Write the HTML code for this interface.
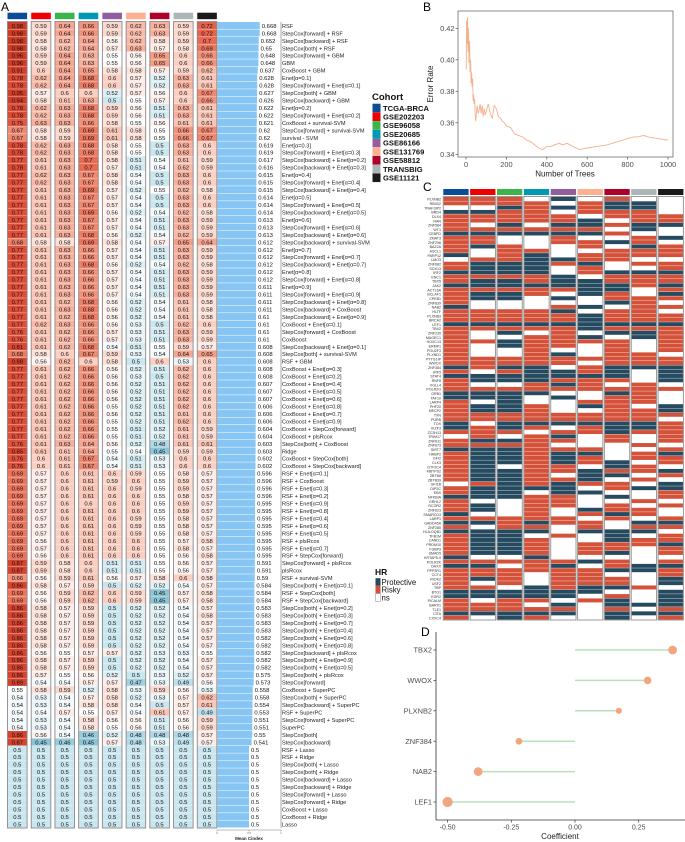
<!DOCTYPE html>
<html><head><meta charset="utf-8"><style>
html,body{margin:0;padding:0;background:#fff;}
svg{display:block;font-family:"Liberation Sans",sans-serif;}
</style></head><body>
<svg id="fig" width="685" height="842" viewBox="0 0 685 842" xmlns="http://www.w3.org/2000/svg">
<text x="1" y="11" font-size="12">A</text>
<text x="423" y="11" font-size="12">B</text>
<text x="423" y="191" font-size="12">C</text>
<text x="421" y="636" font-size="12">D</text>
</svg>
<script>
const NS="http://www.w3.org/2000/svg";
const svg=document.getElementById('fig');
function mk(tag,attrs,parent){const e=document.createElementNS(NS,tag);for(const k in attrs)e.setAttribute(k,attrs[k]);(parent||svg).appendChild(e);return e;}

// ===== Panel A data =====
const cohorts=["TCGA-BRCA","GSE202203","GSE96058","GSE20685","GSE86166","GSE131769","GSE58812","TRANSBIG","GSE11121"];
const cohortColors=["#0b4c96","#ee0000","#3cb44b","#0099b4","#925e9f","#fdaf91","#ad002a","#adb6b6","#1b1919"];
const modelLabels=["RSF","StepCox[forward] + RSF","StepCox[backward] + RSF","StepCox[both] + RSF","StepCox[forward] + GBM","GBM","CoxBoost + GBM","Enet[α=0.1]","StepCox[forward] + Enet[α=0.1]","StepCox[both] + GBM","StepCox[backward] + GBM","Enet[α=0.2]","StepCox[forward] + Enet[α=0.2]","CoxBoost + survival-SVM","StepCox[forward] + survival-SVM","survival - SVM","Enet[α=0.3]","StepCox[forward] + Enet[α=0.3]","StepCox[backward] + Enet[α=0.2]","StepCox[backward] + Enet[α=0.3]","Enet[α=0.4]","StepCox[forward] + Enet[α=0.4]","StepCox[backward] + Enet[α=0.4]","Enet[α=0.5]","StepCox[forward] + Enet[α=0.5]","StepCox[backward] + Enet[α=0.5]","Enet[α=0.6]","StepCox[forward] + Enet[α=0.6]","StepCox[backward] + Enet[α=0.6]","StepCox[backward] + survival-SVM","Enet[α=0.7]","StepCox[forward] + Enet[α=0.7]","StepCox[backward] + Enet[α=0.7]","Enet[α=0.8]","StepCox[forward] + Enet[α=0.8]","Enet[α=0.9]","StepCox[forward] + Enet[α=0.9]","StepCox[backward] + Enet[α=0.8]","StepCox[backward] + CoxBoost","StepCox[backward] + Enet[α=0.9]","CoxBoost + Enet[α=0.1]","StepCox[forward] + CoxBoost","CoxBoost","StepCox[backward] + Enet[α=0.1]","StepCox[both] + survival-SVM","RSF + GBM","CoxBoost + Enet[α=0.3]","CoxBoost + Enet[α=0.2]","CoxBoost + Enet[α=0.4]","CoxBoost + Enet[α=0.5]","CoxBoost + Enet[α=0.6]","CoxBoost + Enet[α=0.8]","CoxBoost + Enet[α=0.7]","CoxBoost + Enet[α=0.9]","CoxBoost + StepCox[forward]","CoxBoost + plsRcox","StepCox[both] + CoxBoost","Ridge","CoxBoost + StepCox[both]","CoxBoost + StepCox[backward]","RSF + Enet[α=0.1]","RSF + CoxBoost","RSF + Enet[α=0.3]","RSF + Enet[α=0.2]","RSF + Enet[α=0.9]","RSF + Enet[α=0.8]","RSF + Enet[α=0.4]","RSF + Enet[α=0.6]","RSF + Enet[α=0.5]","RSF + plsRcox","RSF + Enet[α=0.7]","RSF + StepCox[forward]","StepCox[forward] + plsRcox","plsRcox","RSF + survival-SVM","StepCox[both] + Enet[α=0.1]","RSF + StepCox[both]","RSF + StepCox[backward]","StepCox[both] + Enet[α=0.2]","StepCox[both] + Enet[α=0.3]","StepCox[both] + Enet[α=0.7]","StepCox[both] + Enet[α=0.4]","StepCox[both] + Enet[α=0.6]","StepCox[both] + Enet[α=0.8]","StepCox[backward] + plsRcox","StepCox[both] + Enet[α=0.9]","StepCox[both] + Enet[α=0.5]","StepCox[both] + plsRcox","StepCox[forward]","CoxBoost + SuperPC","StepCox[both] + SuperPC","StepCox[backward] + SuperPC","RSF + SuperPC","StepCox[forward] + SuperPC","SuperPC","StepCox[both]","StepCox[backward]","RSF + Lasso","RSF + Ridge","StepCox[both] + Lasso","StepCox[both] + Ridge","StepCox[backward] + Lasso","StepCox[backward] + Ridge","StepCox[forward] + Lasso","StepCox[forward] + Ridge","CoxBoost + Lasso","CoxBoost + Ridge","Lasso"];
const meanCindex=[0.668,0.668,0.652,0.65,0.648,0.648,0.637,0.628,0.628,0.627,0.626,0.622,0.622,0.621,0.62,0.62,0.619,0.619,0.617,0.616,0.615,0.615,0.615,0.614,0.614,0.614,0.613,0.613,0.613,0.612,0.612,0.612,0.612,0.612,0.612,0.611,0.611,0.611,0.611,0.61,0.61,0.61,0.61,0.608,0.608,0.608,0.608,0.608,0.607,0.607,0.607,0.606,0.606,0.606,0.604,0.604,0.603,0.603,0.602,0.602,0.596,0.596,0.596,0.596,0.595,0.595,0.595,0.595,0.595,0.595,0.595,0.595,0.591,0.591,0.59,0.584,0.584,0.584,0.583,0.583,0.583,0.583,0.582,0.582,0.582,0.582,0.582,0.575,0.573,0.558,0.558,0.554,0.553,0.551,0.551,0.55,0.541,0.5,0.5,0.5,0.5,0.5,0.5,0.5,0.5,0.5,0.5,0.5];
const E7=[0.77,0.61,0.63,0.66,0.57,0.54,0.51,0.63,0.59], SB=[0.86,0.58,0.57,0.59,0.5,0.52,0.52,0.54,0.57], CB=[0.77,0.61,0.62,0.66,0.56,0.52,0.51,0.62,0.6], RE=[0.69,0.57,0.6,0.61,0.6,0.59,0.55,0.58,0.57], H5=[0.5,0.5,0.5,0.5,0.5,0.5,0.5,0.5,0.5];
const cohortValues=[
[0.98,0.59,0.64,0.66,0.59,0.62,0.63,0.59,0.72],[0.98,0.59,0.64,0.66,0.59,0.62,0.63,0.59,0.72],[0.98,0.58,0.62,0.64,0.56,0.62,0.58,0.59,0.7],[0.98,0.58,0.62,0.64,0.57,0.63,0.57,0.58,0.69],
[0.96,0.59,0.64,0.63,0.55,0.56,0.65,0.6,0.66],[0.96,0.59,0.64,0.63,0.55,0.56,0.65,0.6,0.66],[0.91,0.6,0.64,0.65,0.58,0.58,0.57,0.59,0.62],[0.78,0.62,0.64,0.68,0.6,0.57,0.52,0.63,0.61],
[0.78,0.62,0.64,0.68,0.6,0.57,0.52,0.63,0.61],[0.95,0.57,0.6,0.6,0.52,0.57,0.56,0.6,0.67],[0.94,0.58,0.61,0.63,0.5,0.55,0.57,0.6,0.66],[0.78,0.62,0.63,0.68,0.59,0.56,0.51,0.63,0.61],
[0.78,0.62,0.63,0.68,0.59,0.56,0.51,0.63,0.61],[0.75,0.63,0.63,0.66,0.58,0.55,0.56,0.61,0.61],[0.67,0.58,0.59,0.69,0.61,0.58,0.55,0.66,0.67],[0.67,0.58,0.59,0.69,0.61,0.58,0.55,0.66,0.67],
[0.78,0.62,0.63,0.68,0.58,0.55,0.5,0.63,0.6],[0.78,0.62,0.63,0.68,0.58,0.55,0.5,0.63,0.6],[0.77,0.61,0.63,0.7,0.58,0.51,0.54,0.61,0.59],[0.78,0.61,0.63,0.7,0.57,0.51,0.54,0.62,0.59],
[0.77,0.62,0.63,0.67,0.58,0.54,0.5,0.63,0.6],[0.77,0.62,0.63,0.67,0.58,0.54,0.5,0.63,0.6],[0.77,0.61,0.63,0.69,0.57,0.52,0.55,0.62,0.58],[0.77,0.61,0.63,0.67,0.57,0.54,0.5,0.63,0.6],
[0.77,0.61,0.63,0.67,0.57,0.54,0.5,0.63,0.6],[0.77,0.61,0.63,0.69,0.56,0.52,0.54,0.62,0.58],[0.77,0.61,0.63,0.67,0.57,0.54,0.51,0.63,0.59],[0.77,0.61,0.63,0.67,0.57,0.54,0.51,0.63,0.59],
[0.77,0.61,0.63,0.68,0.56,0.52,0.54,0.62,0.59],[0.68,0.58,0.58,0.69,0.58,0.54,0.57,0.65,0.64],E7,E7,
[0.77,0.61,0.63,0.68,0.56,0.52,0.54,0.62,0.58],E7,E7,E7,E7,[0.77,0.61,0.62,0.68,0.56,0.52,0.54,0.61,0.58],
[0.77,0.61,0.63,0.68,0.56,0.52,0.54,0.61,0.58],[0.77,0.61,0.62,0.68,0.56,0.52,0.54,0.61,0.58],[0.77,0.62,0.63,0.66,0.56,0.53,0.5,0.62,0.6],[0.76,0.61,0.62,0.66,0.57,0.53,0.51,0.63,0.59],
[0.76,0.61,0.62,0.66,0.57,0.53,0.51,0.63,0.59],[0.81,0.61,0.62,0.68,0.54,0.51,0.55,0.59,0.57],[0.68,0.58,0.6,0.67,0.59,0.53,0.54,0.64,0.65],[0.88,0.56,0.62,0.6,0.58,0.5,0.6,0.53,0.6],
CB,[0.77,0.61,0.62,0.66,0.56,0.53,0.5,0.62,0.6],CB,CB,
CB,[0.77,0.61,0.62,0.66,0.55,0.52,0.51,0.62,0.6],[0.77,0.61,0.62,0.66,0.56,0.52,0.51,0.61,0.6],[0.77,0.61,0.62,0.66,0.55,0.52,0.51,0.62,0.6],
[0.77,0.61,0.62,0.66,0.55,0.51,0.52,0.61,0.59],[0.77,0.61,0.62,0.66,0.55,0.51,0.52,0.61,0.59],[0.76,0.61,0.63,0.64,0.56,0.52,0.48,0.61,0.61],[0.85,0.61,0.61,0.64,0.55,0.54,0.45,0.59,0.59],
[0.76,0.6,0.61,0.67,0.54,0.51,0.53,0.6,0.6],[0.76,0.6,0.61,0.67,0.54,0.51,0.53,0.6,0.6],RE,[0.69,0.57,0.6,0.61,0.59,0.6,0.55,0.59,0.57],
[0.69,0.57,0.6,0.61,0.6,0.59,0.55,0.59,0.57],[0.69,0.57,0.6,0.61,0.6,0.6,0.55,0.58,0.57],[0.69,0.57,0.6,0.6,0.6,0.6,0.55,0.59,0.57],[0.69,0.57,0.6,0.61,0.6,0.6,0.55,0.59,0.57],
RE,RE,RE,[0.69,0.56,0.6,0.61,0.6,0.6,0.55,0.57,0.58],
[0.69,0.57,0.6,0.61,0.6,0.6,0.55,0.58,0.57],[0.69,0.56,0.6,0.61,0.6,0.6,0.55,0.56,0.58],[0.87,0.59,0.58,0.6,0.51,0.51,0.55,0.56,0.57],[0.87,0.59,0.58,0.6,0.51,0.51,0.55,0.56,0.57],
[0.66,0.56,0.59,0.61,0.56,0.57,0.58,0.6,0.58],SB,[0.69,0.56,0.59,0.62,0.6,0.59,0.45,0.57,0.58],[0.69,0.56,0.59,0.62,0.6,0.59,0.45,0.57,0.58],
SB,[0.86,0.58,0.57,0.59,0.5,0.52,0.52,0.54,0.58],SB,SB,SB,SB,
[0.86,0.56,0.55,0.57,0.57,0.52,0.53,0.53,0.55],SB,SB,[0.86,0.57,0.55,0.56,0.52,0.5,0.53,0.52,0.57],
[0.89,0.54,0.54,0.57,0.57,0.47,0.53,0.49,0.56],[0.55,0.58,0.59,0.52,0.58,0.53,0.59,0.56,0.53],[0.54,0.53,0.54,0.57,0.58,0.52,0.53,0.57,0.62],[0.54,0.53,0.54,0.58,0.58,0.54,0.5,0.57,0.61],
[0.54,0.54,0.57,0.55,0.57,0.54,0.61,0.57,0.49],[0.54,0.53,0.54,0.58,0.56,0.56,0.51,0.56,0.59],[0.54,0.53,0.54,0.58,0.55,0.56,0.51,0.56,0.59],[0.86,0.56,0.54,0.46,0.52,0.48,0.48,0.48,0.57],
[0.87,0.45,0.46,0.45,0.57,0.48,0.53,0.49,0.57],H5,H5,H5,H5,H5,H5,H5,H5,H5,H5,H5];

// ===== Panel B data =====
const treeCounts=[1,3,5,8,10,12,15,18,20,23,25,28,30,33,35,38,40,43,45,48,50,55,60,65,70,75,80,85,90,95,100,110,120,130,140,150,160,170,180,190,200,220,240,260,280,300,320,340,360,380,400,420,440,460,480,500,530,560,600,650,700,750,800,830,850,880,900,950,1000];
const errorRates=[0.394,0.425,0.41,0.427,0.405,0.42,0.398,0.412,0.392,0.40,0.385,0.392,0.383,0.388,0.374,0.378,0.372,0.375,0.366,0.361,0.364,0.371,0.366,0.368,0.372,0.366,0.371,0.364,0.369,0.365,0.367,0.372,0.366,0.363,0.371,0.369,0.364,0.363,0.361,0.360,0.358,0.357,0.353,0.352,0.351,0.349,0.348,0.346,0.344,0.343,0.345,0.345,0.346,0.347,0.346,0.347,0.345,0.343,0.344,0.345,0.346,0.348,0.350,0.351,0.351,0.352,0.351,0.350,0.349];
const bYTicks=[0.34,0.36,0.38,0.40,0.42];
const bXTicks=[0,200,400,600,800,1000];

// ===== Panel C data =====
const genes=["PLXNB2","RBX02","TRAF3IP2","BRD4","DLX4","RAN","ZNF584","WT1","CEBPD","ZMAT3","ZNF296","BAZ2A","ASCL1","PARP12","LMO3","ZNF682","SOX13","IRF2","ENC1","TBX5","JAK2","ACTL6A","BCLAF1","CPEB1","ZNF839","NAB2","HLTF","PLXNB3","BRCA2","LEF1","TBX2","ZNF239","MAGEC1","HOXC13","ERMP1","POU2F3","PLXND1","PTTG1IP","WWOX","ZNF384","IRF5","STAT4","RNF8","VGLL4","POLR2G","GRB1","TAF10","LARP4","PHF20","MECP2","TXN","PURB","TOX","IKZF3","ZC3H13","TRIM17","ZNF611","ZNF673","SIRT7","HABP2","GFI2","CLK3","GTF3C4","MBTPS2","ZBTB8","ZBTB39","GFI1B","DIP2C","EBX","NFKBIA","GRHL2","RCOR2","ZNF623","SMARCD3","LARP1","GADD45A","ZNF280","HLA-DQB1","TFB1M","CAND1","PRDM10","FUBP3","SMAD5","KRTAP5-9","POLR2K","DAXX","PPP3R1","CCT4","RIOK2","USF2","TBP","BTG1","EGR2","PICALM","BARX1","TLE1","CITA","CXXC4"];
const hrPatterns=["RRRNPNRNN","RRRRNRPPN","NNPRPRPPN","PPRRNRRRN","RRRRRNRRR","RRRRRPNRR","RNPNPPRPP","RRRRRRNPN","PPPPPPRNN","RRNNRNNRP","RRNNRRPRN","RPRNNRNPR","RNRRNNRRR","PNRPNRRRR","NRRPPRRNN","RPPPRPNRR","RPPPNRNNR","PPPPNRPPP","RRRRPNRRR","RPPRPPRRR","PPPPPPPRP","RRRRRPPNR","RPPRNPRNP","RPPNPNRRR","RNNNNNPRN","PNNNRPNRR","RRRRPNRRN","RRRRRPRRR","RRRRRPRRR","PPPPPPPPP","RRRRRPRRR","RNPNRNPPR","RNNRRPNPR","RRPRRRRNR","RNPRRNRNR","RNNRNNRNR","RNNRPNRRN","RRRRRRRRR","RRRRRNRRR","PRPPNRPPP","RNRPPRPNP","PPPPPPPNP","RPPPRRRNP","RNNRPRNRN","RRRRRRRRR","PPPPNNPRN","PPPNPNRRN","RNPNNRRRN","RPPRNPRNP","RPPRNNRRP","RRRRRRRRR","RRRRRRRRN","PNPPPPPPR","PRPRNRPPR","RRRNRRPRR","NRNRPNRNR","RPPRRNRNR","RRRRNNNRN","PPPRRRNNR","RPPRPPNRP","RPPRPRNRR","RPPRPRPNR","RPNRRNPRN","RPPRRPRRP","RPPRNPPNR","RPPRRPNRN","NRPRPRRNP","RPPPPNRPP","RPPNPPNNR","PPPRRNPNR","RNNRRNNRN","RPNRRNRNR","RPNRNPRRN","PNNRNRPRN","RRRRRNRNR","PPRPRRNPP","RNRRNRNRR","PPPPNPPPN","RPPNRNPNR","RPPRNNPRR","RPPRNRRRP","RPPRNRRNR","RPPRNRPNR","PNNPNNNNN","RRRRRPRNR","PPNRPNRPP","RRRRRRPPR","RRRNRRNNR","RPRNRRRNP","RNRNRRRNP","RRNPRPPRN","PPPPPPNNP","PPPPPNRNP","RNRRNRPNP","RRRNPNPPP","RRRRRNRNR","PPPPPNPPP","RNPRNNPNR"];
const hrColors={R:"#d5523a",P:"#264b61",N:"#ffffff"};

// ===== Panel D data =====
const dGenes=["TBX2","WWOX","PLXNB2","ZNF384","NAB2","LEF1"];
const dCoefs=[0.383,0.285,0.172,-0.22,-0.38,-0.5];
const dXTicks=[-0.5,-0.25,0,0.25];

// ===================== Panel A drawing =====================
const aTop=22, aBot=828, rowH=(aBot-aTop)/modelLabels.length;
const colX0=7.5, colPitch=23.72, colW=19.6;
function lerp(a,b,t){return a+(b-a)*t;}
function hex(c){return [parseInt(c.slice(1,3),16),parseInt(c.slice(3,5),16),parseInt(c.slice(5,7),16)];}
const cStops=[[0.44,"#7fbdd1"],[0.5,"#cae6ef"],[0.55,"#ffffff"],[0.6,"#fbcfc2"],[0.65,"#f39c86"],[0.7,"#e86a52"],[0.78,"#dc4a35"],[1.0,"#cc3a26"]];
function heatColor(v){
  if(v<=cStops[0][0])return cStops[0][1];
  for(let i=1;i<cStops.length;i++){if(v<=cStops[i][0]){const t=(v-cStops[i-1][0])/(cStops[i][0]-cStops[i-1][0]);const a=hex(cStops[i-1][1]),b=hex(cStops[i][1]);return `rgb(${Math.round(lerp(a[0],b[0],t))},${Math.round(lerp(a[1],b[1],t))},${Math.round(lerp(a[2],b[2],t))})`;}}
  return cStops[cStops.length-1][1];
}
const gA=mk('g',{});


cohorts.forEach((c,j)=>{
  const x=colX0+j*colPitch;
  const bar=mk('rect',{x:x,y:12.7,width:colW,height:6.5,fill:cohortColors[j]},gA);
  
  
});
cohortValues.forEach((row,i)=>{
  const y=aTop+i*rowH;
  row.forEach((v,j)=>{
    const x=colX0+j*colPitch;
    const r=mk('rect',{x:x,y:y,width:colW,height:rowH-0.3,fill:heatColor(v)},gA);
    
    
    const t=mk('text',{x:x+colW/2,y:y+rowH-1.6,'font-size':5.9,'text-anchor':'middle',fill:'#111'},gA);
    t.textContent=String(v);
    
    
  });
  const m=meanCindex[i];
  const bx=217, be=217+64*m;
  const b=mk('rect',{x:bx+0.5,y:y,width:be-bx-0.5,height:rowH-0.5,fill:'#87c5f4'},gA);
  
  
  const mt=mk('text',{x:be+2,y:y+rowH-1.6,'font-size':5.9,fill:'#111'},gA);
  mt.textContent=String(m);
  
  
  const lt=mk('text',{x:282,y:y+rowH-1.6,'font-size':5.6,fill:'#222'},gA);
  lt.textContent=modelLabels[i];
  
  
});
cohorts.forEach((c,j)=>{
  const x=colX0+j*colPitch;
  const br=mk('rect',{x:x,y:aTop-0.5,width:colW,height:aBot-aTop+0.5,fill:'none',stroke:'#8a8a8a','stroke-width':0.9},gA);
  
  
});
const al=mk('line',{x1:281,y1:aTop,x2:281,y2:aBot,stroke:'#555','stroke-width':0.5},gA);


const ax=mk('line',{x1:217,y1:aBot+2,x2:281,y2:aBot+2,stroke:'#555','stroke-width':0.4},gA);


[0,0.5,1].forEach(v=>{
  const x=217+64*v;
  const tk=mk('line',{x1:x,y1:aBot+2,x2:x,y2:aBot+3.5,stroke:'#555','stroke-width':0.4},gA);
  
  
  const tl=mk('text',{x:x,y:aBot+6,'font-size':2.6,'text-anchor':'middle',fill:'#555'},gA);
  tl.textContent=String(v);
  
  
});
const mc=mk('text',{x:249,y:840,'font-size':4.5,'font-weight':'bold','text-anchor':'middle',fill:'#222'},gA);
mc.textContent='Mean Cindex';



// ===================== Cohort legend =====================
const lg=mk('g',{});


const lt0=mk('text',{x:372,y:100,'font-size':9.5,'font-weight':'bold',fill:'#111'},lg);
lt0.textContent='Cohort';


cohorts.forEach((c,j)=>{
  const cy=108+j*8.72;
  const s=mk('rect',{x:372.5,y:cy-4.3,width:8,height:8.6,fill:cohortColors[j]},lg);
  
  
  const t=mk('text',{x:383,y:cy+2.8,'font-size':7.6,'font-weight':'bold',fill:'#111'},lg);
  t.textContent=c;
  
  
});

// ===================== Panel B =====================
const bL=458,bR=673,bT=11,bB=157;
const bx=v=>466+(v/1000)*(668-466);
const by=v=>154.3-(v-0.34)/0.08*(154.3-28.3);
const gB=mk('g',{});


const box=mk('rect',{x:bL,y:bT,width:bR-bL,height:bB-bT,fill:'#fff',stroke:'#7f7f7f','stroke-width':0.9},gB);


bYTicks.forEach(v=>{
  const tk=mk('line',{x1:bL-2.5,y1:by(v),x2:bL,y2:by(v),stroke:'#555','stroke-width':0.7},gB);
  
  
  const t=mk('text',{x:bL-3.5,y:by(v)+2.6,'font-size':7.4,'text-anchor':'end',fill:'#4d4d4d'},gB);
  t.textContent=v.toFixed(2);
  
  
});
bXTicks.forEach(v=>{
  const tk=mk('line',{x1:bx(v),y1:bB,x2:bx(v),y2:bB+2.5,stroke:'#555','stroke-width':0.7},gB);
  
  
  const t=mk('text',{x:bx(v),y:167,'font-size':7.4,'text-anchor':'middle',fill:'#4d4d4d'},gB);
  t.textContent=String(v);
  
  
});
const xt=mk('text',{x:565,y:176.5,'font-size':8,'text-anchor':'middle',fill:'#222'},gB);
xt.textContent='Number of Trees';


const yt=mk('text',{x:0,y:0,'font-size':8,'text-anchor':'middle',fill:'#222',transform:'translate(433,84) rotate(-90)'},gB);
yt.textContent='Error Rate';


const pts=treeCounts.map((n,i)=>bx(n).toFixed(2)+','+by(errorRates[i]).toFixed(2)).join(' ');
const pl=mk('polyline',{points:pts,fill:'none',stroke:'#f5b08c','stroke-width':0.9},gB);



// ===================== Panel C =====================
const cX0=443.3,cPitch=26.85,cW=25.3,cTop=197,cBot=620;
const cRowH=(cBot-cTop)/genes.length;
const gC=mk('g',{});


cohorts.forEach((c,j)=>{
  const r=mk('rect',{x:cX0+j*cPitch,y:189,width:cW,height:6,fill:cohortColors[j]},gC);
  
  
});
genes.forEach((g,i)=>{
  const y=cTop+i*cRowH;
  const p=hrPatterns[i]||"NNNNNNNNN";
  for(let j=0;j<9;j++){
    const r=mk('rect',{x:cX0+j*cPitch,y:y,width:cW,height:cRowH-0.35,fill:hrColors[p[j]]},gC);
    
    
  }
  const t=mk('text',{x:441,y:y+cRowH-0.6,'font-size':3.6,'text-anchor':'end',fill:'#333'},gC);
  t.textContent=g;
  
  
});
cohorts.forEach((c,j)=>{
  const r=mk('rect',{x:cX0+j*cPitch,y:cTop-0.5,width:cW,height:cBot-cTop+0.5,fill:'none',stroke:'#999','stroke-width':1},gC);
  
  
});
// HR legend
const hg=mk('g',{});


const ht=mk('text',{x:375,y:575,'font-size':8.5,'font-weight':'bold',fill:'#111'},hg);
ht.textContent='HR';


[["Protective","#264b61",582],["Risky","#d5523a",589.5],["ns","#ffffff",597.5]].forEach(([lab,col,cy])=>{
  const s=mk('rect',{x:375.5,y:cy-3.8,width:5,height:7.6,fill:col,stroke:lab==='ns'?'#888':'none','stroke-width':0.5},hg);
  
  
  const t=mk('text',{x:381.5,y:cy+2.8,'font-size':7.8,fill:'#111'},hg);
  t.textContent=lab;
  
  
});

// ===================== Panel D =====================
const dx=v=>575+(v/0.25)*63.7;
const dTop=650,dStep=30.4;
const gD=mk('g',{});


const ya=mk('line',{x1:436,y1:632,x2:436,y2:820,stroke:'#333','stroke-width':0.8},gD);


const xa=mk('line',{x1:436,y1:820,x2:685,y2:820,stroke:'#333','stroke-width':0.8},gD);


dXTicks.forEach(v=>{
  const tk=mk('line',{x1:dx(v),y1:820,x2:dx(v),y2:822.5,stroke:'#333','stroke-width':0.7},gD);
  
  
  const t=mk('text',{x:dx(v),y:829.5,'font-size':7,'text-anchor':'middle',fill:'#4d4d4d'},gD);
  t.textContent=v.toFixed(2);
  
  
});
const ct=mk('text',{x:560,y:839,'font-size':8,'text-anchor':'middle',fill:'#222'},gD);
ct.textContent='Coefficient';


dGenes.forEach((g,i)=>{
  const y=dTop+i*dStep, v=dCoefs[i];
  const tk=mk('line',{x1:433.5,y1:y,x2:436,y2:y,stroke:'#333','stroke-width':0.7},gD);
  
  
  const t=mk('text',{x:432,y:y+2.6,'font-size':7.4,'text-anchor':'end',fill:'#4d4d4d'},gD);
  t.textContent=g;
  
  
  const ln=mk('line',{x1:dx(0),y1:y,x2:dx(v),y2:y,stroke:'#b9e0b9','stroke-width':1.5},gD);
  
  
  const c=mk('circle',{cx:dx(v),cy:y,r:2+Math.abs(v)*6.2,fill:'#f3a57f'},gD);
  
  
});
</script>
</body></html>
